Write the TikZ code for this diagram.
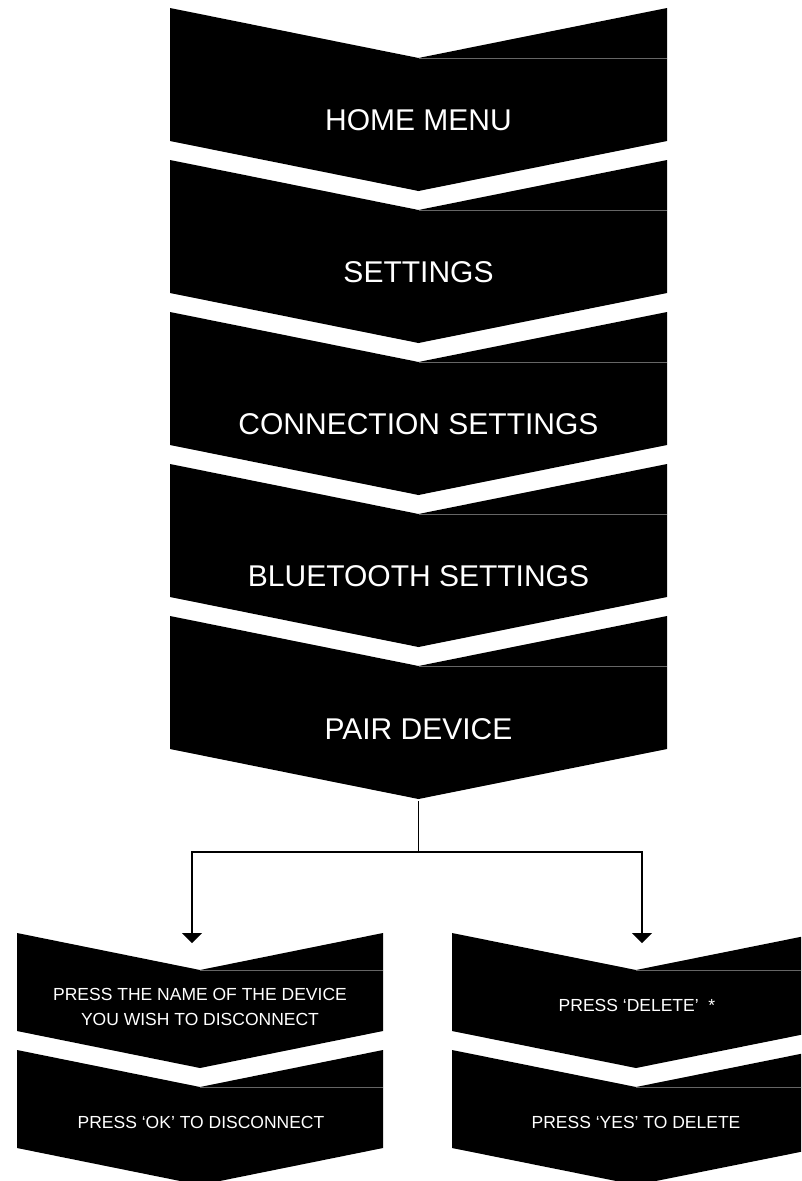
\documentclass[tikz,border=0pt]{standalone}
\usepackage{fontspec}
\setmainfont{Liberation Sans}
\usetikzlibrary{arrows.meta}
\tikzset{
  chevfill/.style={fill=black, draw=none},
  seam/.style={draw=black!60!white, line width=0.4pt},
  bigtext/.style={text=white, font=\fontsize{30}{36}\selectfont, inner sep=0pt},
  smalltext/.style={text=white, font=\fontsize{17.5}{24.5}\selectfont, align=center, inner sep=0pt},
  link/.style={line width=1.2pt, draw=black},
  arrowlink/.style={link, -{Triangle[width=20pt,length=10pt]}},
}
% #1 cx, #2 top y, #3 half width, #4 side height, #5 notch depth
\newcommand\chevshape[5]{%
  \fill[chevfill] (#1-#3,#2) -- (#1,#2+#5) -- (#1+#3,#2) -- (#1+#3,#2+#4) -- (#1,#2+#4+#5) -- (#1-#3,#2+#4) -- cycle;
  \draw[seam] (#1,#2+#5) -- (#1+#3,#2+#5);
}
\begin{document}
\begin{tikzpicture}[x=1pt,y=-1pt]
\useasboundingbox (0,0) rectangle (801,1181);
\clip (0,0) rectangle (801,1181);
% main chevrons
\chevshape{418.5}{8}{248.5}{133}{50}
\chevshape{418.5}{160}{248.5}{133}{50}
\chevshape{418.5}{312}{248.5}{133}{50}
\chevshape{418.5}{464}{248.5}{133}{50}
\chevshape{418.5}{616}{248.5}{133}{50}
\node[bigtext] (home) at (418.5,120) {HOME MENU};
\node[bigtext] (settings) at (418.5,272) {SETTINGS};
\node[bigtext] (conn) at (418.5,424) {CONNECTION SETTINGS};
\node[bigtext] (blue) at (418.5,576) {BLUETOOTH SETTINGS};
\node[bigtext] (pair) at (418.5,729) {PAIR DEVICE};
% bottom chevrons
\chevshape{200}{933}{183}{98}{37}
\chevshape{200}{1050}{183}{98}{37}
\chevshape{636}{933}{184}{98}{37}
\chevshape{636}{1050}{184}{98}{37}
\node[smalltext] (name) at (200,1007) {PRESS THE NAME OF THE DEVICE\\YOU WISH TO DISCONNECT};
\node[smalltext] (ok) at (201,1122.5) {PRESS ‘OK’ TO DISCONNECT};
\node[smalltext] (del) at (637,1005.5) {PRESS ‘DELETE’ \ *};
\node[smalltext] (yes) at (636,1122.5) {PRESS ‘YES’ TO DELETE};
% connectors
\coordinate (pairtip) at (418.5,801);
\coordinate (split) at (418.5,852);
\coordinate (lcorner) at (192,852);
\coordinate (rcorner) at (642,852);
\coordinate (larrow) at (192,943);
\coordinate (rarrow) at (642,943);
\draw[link] (pairtip) -- (split);
\draw[arrowlink] (split) -- (lcorner) -- (larrow);
\draw[arrowlink] (split) -- (rcorner) -- (rarrow);
\end{tikzpicture}
\end{document}
